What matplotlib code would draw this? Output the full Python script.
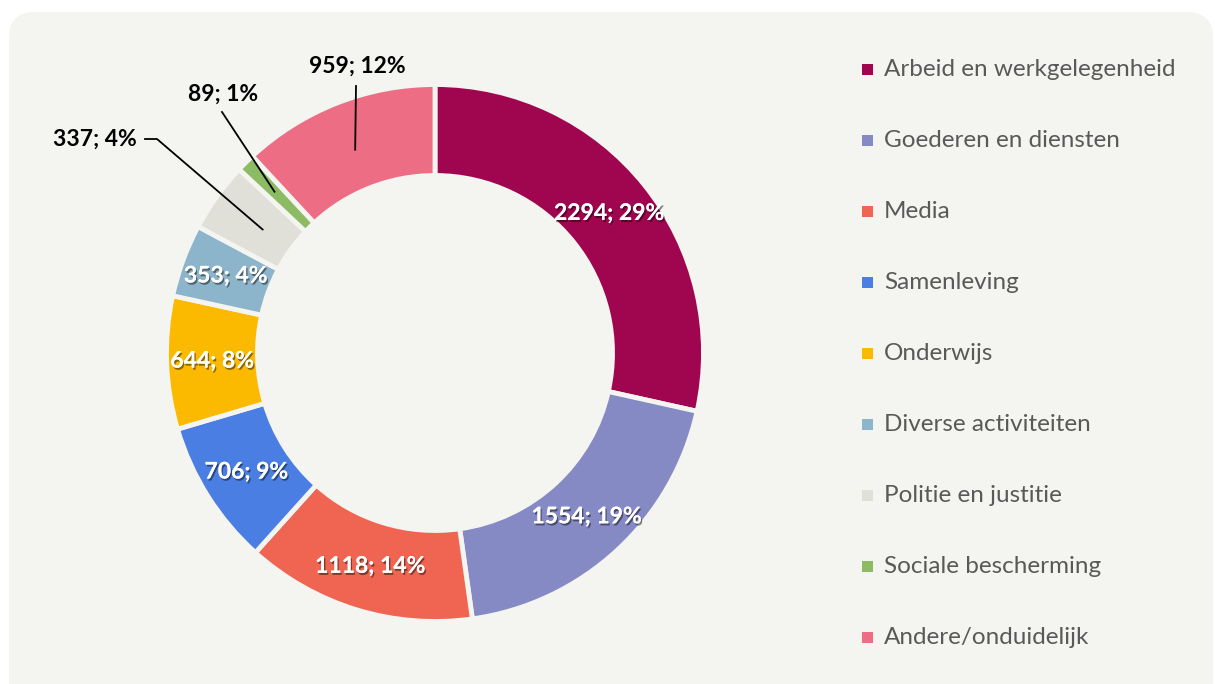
import matplotlib
matplotlib.use("Agg")
import matplotlib.pyplot as plt
from matplotlib.patches import FancyBboxPatch, Rectangle
import matplotlib.patheffects as pe
import numpy as np

categories = ["Arbeid en werkgelegenheid", "Goederen en diensten", "Media", "Samenleving",
              "Onderwijs", "Diverse activiteiten", "Politie en justitie",
              "Sociale bescherming", "Andere/onduidelijk"]
values = [2294, 1554, 1118, 706, 644, 353, 337, 89, 959]
percents = [29, 19, 14, 9, 8, 4, 4, 1, 12]
colors = ["#A0064F", "#858AC4", "#F06452", "#4A7EE2", "#FBB900", "#8CB5CB",
          "#E0E0D8", "#8DBB63", "#ED6D84"]

BG = "#F4F4F0"
W, H = 1215, 684
fig = plt.figure(figsize=(W/100, H/100), dpi=100)
fig.patch.set_facecolor("white")
ax = fig.add_axes([0, 0, 1, 1])

ax.add_patch(FancyBboxPatch((9, -40), 1204, H - 12 + 40, boxstyle="round,pad=0,rounding_size=26",
                            facecolor=BG, edgecolor="none", zorder=0))

cx, cy, R = 435, H - 353, 268.5
width = 91
wedges, _ = ax.pie(values, colors=colors, startangle=90, counterclock=False,
                   center=(cx, cy), radius=R, frame=True,
                   wedgeprops=dict(width=width, edgecolor=BG, linewidth=3.5))
ax.set_xlim(0, W)
ax.set_ylim(0, H)
ax.set_aspect("equal")
ax.axis("off")

font = "Lato"
labels = [f"{v}; {p}%" for v, p in zip(values, percents)]
shadow = [pe.withSimplePatchShadow(offset=(1, -1.5), shadow_rgbFace="black", alpha=0.45), pe.Normal()]
mid_r = R - width / 2
outside = {6: ((95, H - 139), (157, H - 139), 0.62),
           7: ((223, H - 94), (222, H - 112), 0.45),
           8: ((357, H - 66), (356, H - 86), 0.55)}
for i, w in enumerate(wedges):
    ang = np.deg2rad((w.theta1 + w.theta2) / 2)
    if i in outside:
        (tx, ty), (lx, ly), frac = outside[i]
        r_in = R - width * frac
        px, py = cx + r_in * np.cos(ang), cy + r_in * np.sin(ang)
        if i == 6:
            ax.plot([px, lx, 145], [py, ly, ly], color="black", lw=1.3, zorder=5)
        else:
            ax.plot([px, lx], [py, ly], color="black", lw=1.3, zorder=5)
        ax.text(tx, ty, labels[i], ha="center", va="center", fontsize=16.5, fontweight="bold",
                family=font, color="black", zorder=6)
    else:
        x, y = cx + mid_r * np.cos(ang), cy + mid_r * np.sin(ang)
        ax.text(x, y, labels[i], ha="center", va="center", fontsize=16.5, fontweight="bold",
                family=font, color="white", path_effects=shadow, zorder=6)

# legend
y0, dy = H - 69, 71.1
for i, (c, name) in enumerate(zip(colors, categories)):
    y = y0 - i * dy
    ax.add_patch(Rectangle((862, y - 5.5), 11, 11, facecolor=c, edgecolor="none", zorder=5))
    ax.text(884, y, name, ha="left", va="center", fontsize=17.5, family=font, color="#595959", zorder=5)

fig.savefig("out.png", dpi=100, facecolor="white")
